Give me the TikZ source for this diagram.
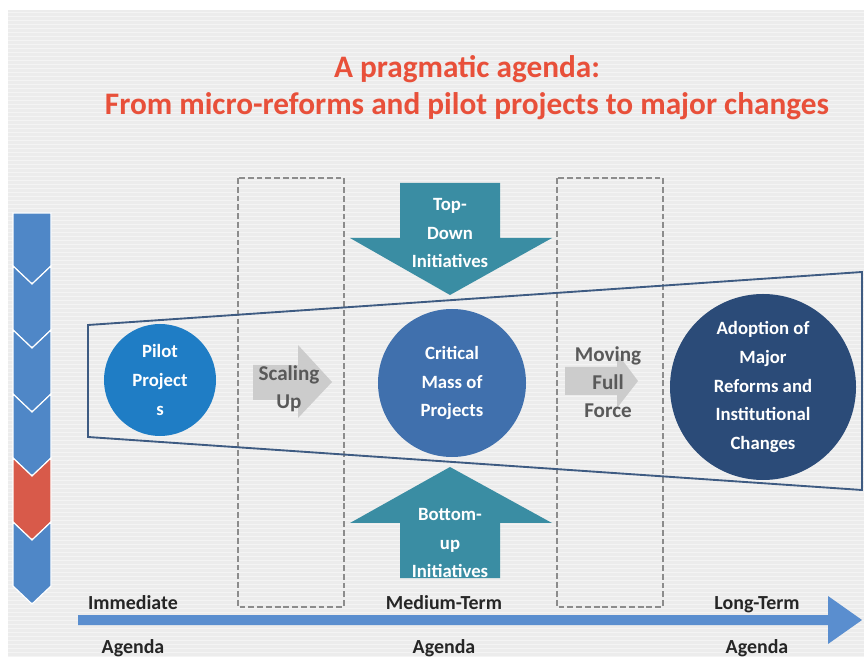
\documentclass[tikz,border=0pt]{standalone}
\usepackage{fontspec}
\setmainfont{Carlito}
\usetikzlibrary{positioning}
\definecolor{bgGray}{HTML}{ECECEC}
\definecolor{titleRed}{HTML}{E8503A}
\definecolor{pilotBlue}{HTML}{1F7DC5}
\definecolor{massBlue}{HTML}{4070AD}
\definecolor{majorBlue}{HTML}{2B4B78}
\definecolor{pushTeal}{HTML}{3A8DA3}
\definecolor{chevBlue}{HTML}{4F87C7}
\definecolor{chevRed}{HTML}{D85A4A}
\definecolor{lineBlue}{HTML}{3E5B82}
\definecolor{barBlue}{HTML}{5A8ECF}
\tikzset{
  stage/.style={circle, inner sep=0pt, text=white, align=center,
    font=\bfseries\fontsize{16}{24.6}\selectfont},
  phase box/.style={draw=black!45, line width=1.7pt, dash pattern=on 5pt off 2.5pt},
  push arrow/.style={fill=pushTeal},
  shift arrow/.style={fill=black!20},
  push text/.style={text=white, align=center, font=\bfseries\fontsize{16}{24.6}\selectfont},
  shift text/.style={text=black!65, align=center, font=\bfseries\fontsize{18}{23.8}\selectfont},
  term/.style={anchor=base, text=black!85, font=\bfseries\fontsize{17}{20}\selectfont},
  chevron/.style={draw=white, line width=1pt, line join=miter},
}

\begin{document}
\begin{tikzpicture}[x={(0.03cm,0)}, y={(0,-0.03cm)}]
  \useasboundingbox (0,0) rectangle (864,657);

  % Background with faint stripes
  \fill[white] (0,0) rectangle (864,657);
  \fill[bgGray] (8,10) rectangle (864,657);
  \foreach \y in {12,16,...,656}
    \draw[white, opacity=0.45, line width=0.5pt] (8,\y) -- (864,\y);

  % Title
  \node[text=titleRed, align=center, font=\bfseries\fontsize{26.7}{31.5}\selectfont]
    (title) at (467,88) {A pragmatic agenda:\\From micro-reforms and pilot projects to major changes};

  % Dashed transition boxes
  \draw[phase box] (238,178) rectangle (344,607);
  \draw[phase box] (557,178) rectangle (663,607);

  % Widening funnel
  \draw[lineBlue, line width=1.6pt, line join=miter]
    (88,325) -- (862,272) -- (862,490) -- (88,437) -- cycle;

  % Stages
  \node[stage, fill=pilotBlue, minimum size=3.36cm] (pilot) at (160,380) {Pilot\\Project\\s};
  \node[stage, fill=massBlue, minimum size=4.44cm] (mass) at (452,383) {Critical\\Mass of\\Projects};
  \node[stage, fill=majorBlue, minimum size=5.58cm] (major) at (763,387)
    {Adoption of\\Major\\Reforms and\\Institutional\\Changes};

  % Top-down and bottom-up pushes
  \fill[push arrow] (400,183) -- (500,183) -- (500,238) -- (552,238) -- (450,295)
    -- (350,238) -- (400,238) -- cycle;
  \node[push text] (topdown) at (450,233) {Top-\\Down\\Initiatives};
  \fill[push arrow] (450,467) -- (552,523) -- (500,523) -- (500,578) -- (400,578)
    -- (400,523) -- (350,523) -- cycle;
  \node[push text] (bottomup) at (450,543) {Bottom-\\up\\Initiatives};

  % Shifts between stages
  \fill[shift arrow] (253,365) -- (298,365) -- (298,345) -- (332,382) -- (298,418)
    -- (298,400) -- (253,400) -- cycle;
  \node[shift text] (scaling) at (289,389) {Scaling\\Up};
  \fill[shift arrow] (565,367) -- (617,367) -- (617,353) -- (638,381) -- (617,408)
    -- (617,395) -- (565,395) -- cycle;
  \node[shift text] (moving) at (608,382) {Moving\\Full\\Force};

  % Chevron column
  \fill[chevBlue, chevron] (13,213) -- (51,213) -- (51,266) -- (32,284) -- (13,266) -- cycle;
  \foreach \t/\c in {266/chevBlue, 330/chevBlue, 394/chevBlue, 458/chevRed, 522/chevBlue}
    \filldraw[fill=\c, chevron] (13,\t) -- (32,\t+18) -- (51,\t) -- (51,\t+64)
      -- (32,\t+82) -- (13,\t+64) -- cycle;

  % Time axis
  \fill[barBlue] (78,615) -- (828,615) -- (828,596) -- (862,620) -- (828,644)
    -- (828,625) -- (78,625) -- cycle;
  \node[term] (imm) at (133,609) {Immediate};
  \node[term] (immag) at (133,653) {Agenda};
  \node[term] (med) at (444,609) {Medium-Term};
  \node[term] (medag) at (444,653) {Agenda};
  \node[term] (long) at (757,609) {Long-Term};
  \node[term] (longag) at (757,653) {Agenda};
\end{tikzpicture}
\end{document}
